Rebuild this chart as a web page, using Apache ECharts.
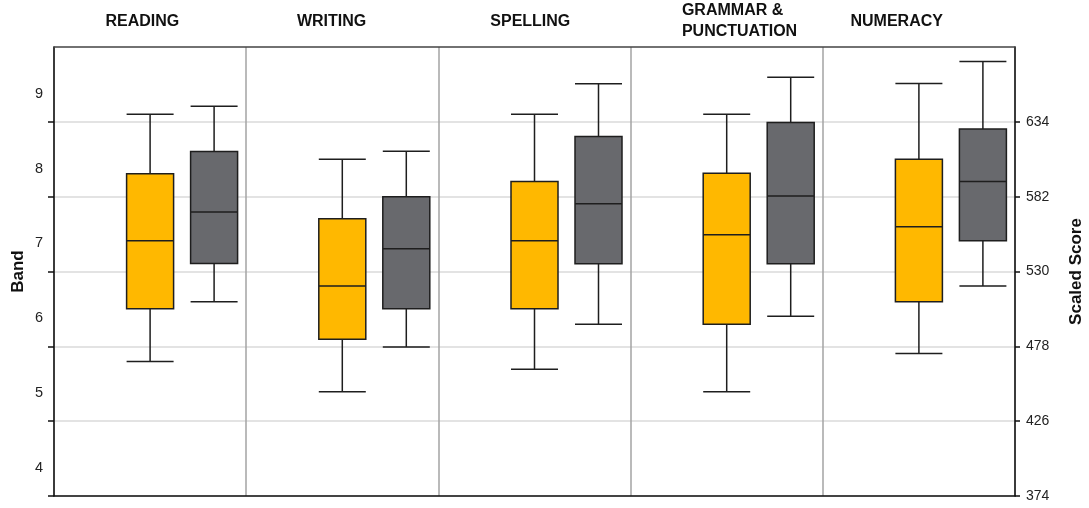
<!DOCTYPE html>
<html><head><meta charset="utf-8">
<script src="https://cdn.jsdelivr.net/npm/echarts@6/dist/echarts.min.js"></script>
<style>html,body{margin:0;padding:0;background:#fff}#c{width:1089px;height:508px}</style>
</head><body><div id="c"></div>
<script>
// ---- data ----
const categories = ['READING', 'WRITING', 'SPELLING', 'GRAMMAR &\nPUNCTUATION', 'NUMERACY'];
// [min, Q1, median, Q3, max] in scaled score units
const schoolBoxes = [
  [467.5, 504.2, 551.4, 598.0, 639.3],
  [446.4, 482.9, 520.0, 566.7, 608.0],
  [462.0, 504.2, 551.4, 592.5, 639.3],
  [446.4, 493.3, 555.6, 598.2, 639.3],
  [473.1, 508.9, 561.1, 608.0, 660.7]
];
const stateBoxes = [
  [508.9, 535.6, 571.3, 613.4, 644.9],
  [477.6, 504.2, 545.8, 582.0, 613.6],
  [493.3, 535.4, 577.1, 623.8, 660.4],
  [498.9, 535.4, 582.4, 633.6, 664.9],
  [520.0, 551.4, 592.5, 629.1, 676.0]
];
const scoreTicks = [374, 426, 478, 530, 582, 634];
const bandLabels = [4, 5, 6, 7, 8, 9];
const scoreMin = 374, scoreMax = 686, scoreStep = 52;
const bandMin = 3.625, bandMax = 9.625;
const headerPositions = [0.268, 1.264, 2.270, 3.267, 4.144];

// ---- layout ----
const G = { left: 54, right: 74, top: 47, bottom: 12 };
const boxShift = 0;      // correction of the library's single-series offset
const pairGap = 64;      // distance between the two boxes of a pair
const FONT = "'Liberation Sans', Arial, sans-serif";
const bandTicks = scoreTicks.map(s => bandMin + (s - scoreMin) / scoreStep);

const chart = echarts.init(document.getElementById('c'), null, { renderer: 'canvas' });
const hiddenX = (gi) => ({ type: 'category', gridIndex: gi, data: categories, show: false });
const hiddenY = (gi) => ({ type: 'value', gridIndex: gi, min: scoreMin, max: scoreMax, show: false });
const mkGrid = (dl) => ({ left: G.left + dl, right: G.right - dl, top: G.top, bottom: G.bottom, outerBoundsMode: 'none', containLabel: false });

chart.setOption({
  animation: false,
  backgroundColor: '#fff',
  grid: [ mkGrid(0), mkGrid(boxShift), mkGrid(boxShift + pairGap) ],
  xAxis: [
    {
      type: 'category', gridIndex: 0, data: categories, position: 'bottom', boundaryGap: true,
      axisLine: { show: true, lineStyle: { color: '#111', width: 1.5 } },
      axisTick: { show: false }, axisLabel: { show: false },
      splitLine: { show: true, lineStyle: { color: '#a3a3a3', width: 1.5 } }
    },
    {
      type: 'value', gridIndex: 0, position: 'top', min: 0, max: 5,
      axisLine: { show: true, lineStyle: { color: '#444', width: 1.5 } },
      axisTick: { show: false }, splitLine: { show: false },
      axisLabel: {
        customValues: headerPositions,
        formatter: (v) => categories[Math.floor(v)],
        align: 'left', verticalAlign: 'middle', lineHeight: 21, margin: 25.5,
        fontFamily: FONT, fontWeight: 'bold', fontSize: 16, color: '#111'
      }
    },
    hiddenX(1), hiddenX(2)
  ],
  yAxis: [
    {
      type: 'value', gridIndex: 0, position: 'left', min: bandMin, max: bandMax,
      axisLine: { show: true, lineStyle: { color: '#111', width: 1.5 } },
      axisTick: { show: true, customValues: bandTicks, length: 6, lineStyle: { color: '#111', width: 1.5 } },
      axisLabel: { customValues: bandLabels, margin: 11, fontFamily: FONT, fontSize: 14.5, color: '#222' },
      splitLine: { show: false },
      name: 'Band', nameLocation: 'middle', nameRotate: 90, nameGap: 27, nameMoveOverlap: false,
      nameTextStyle: { fontFamily: FONT, fontWeight: 'bold', fontSize: 17, color: '#111' }
    },
    {
      type: 'value', gridIndex: 0, position: 'right', min: scoreMin, max: scoreMax, interval: scoreStep,
      axisLine: { show: true, lineStyle: { color: '#111', width: 1.5 } },
      axisTick: { show: true, customValues: scoreTicks, length: 5, lineStyle: { color: '#111', width: 1.5 } },
      axisLabel: { customValues: scoreTicks, margin: 11, fontFamily: FONT, fontSize: 14, color: '#222' },
      splitLine: { show: true, lineStyle: { color: '#dadada', width: 1.5 } },
      name: 'Scaled Score', nameLocation: 'middle', nameRotate: 90, nameGap: 53, nameMoveOverlap: false,
      nameTextStyle: { fontFamily: FONT, fontWeight: 'bold', fontSize: 17, color: '#111' }
    },
    hiddenY(1), hiddenY(2)
  ],
  series: [
    {
      name: 'School', type: 'boxplot', xAxisIndex: 2, yAxisIndex: 2, silent: true,
      boxWidth: [47, 47], data: schoolBoxes,
      itemStyle: { color: '#FFB800', borderColor: '#1e1e1e', borderWidth: 1.5 }
    },
    {
      name: 'State', type: 'boxplot', xAxisIndex: 3, yAxisIndex: 3, silent: true,
      boxWidth: [47, 47], data: stateBoxes,
      itemStyle: { color: '#68696d', borderColor: '#1e1e1e', borderWidth: 1.5 }
    }
  ]
});
</script></body></html>
